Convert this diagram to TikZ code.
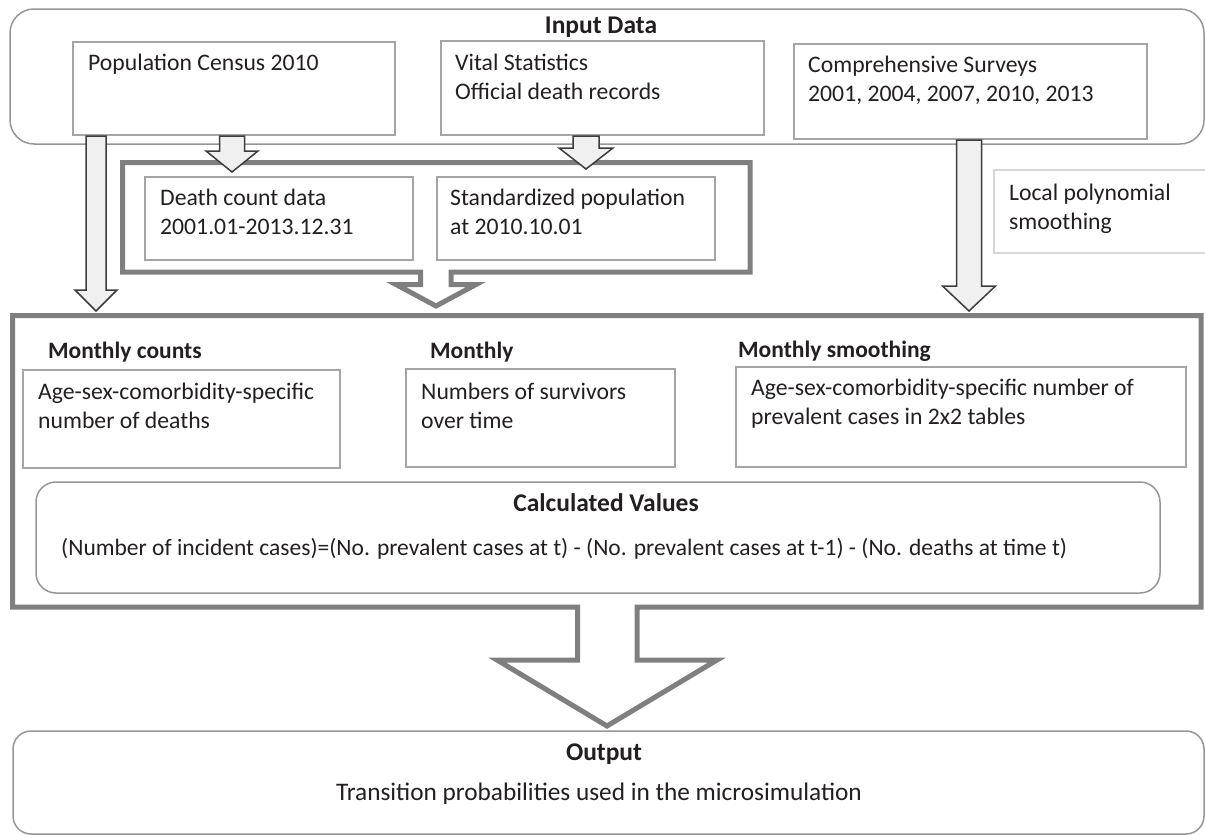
\documentclass[tikz,border=0pt]{standalone}
\usepackage{fontspec}
\setmainfont{Carlito}
\usetikzlibrary{positioning,calc}
\definecolor{txtc}{RGB}{35,31,32}
\definecolor{grpc}{RGB}{150,150,150}
\definecolor{boxc}{RGB}{165,165,165}
\definecolor{lboxc}{RGB}{215,215,215}
\definecolor{fatc}{RGB}{127,127,128}
\definecolor{arrf}{RGB}{240,240,240}
\definecolor{arrd}{RGB}{60,60,60}
% block arrow: x, from, to, half shaft, half head, head length
\newcommand{\blockarrow}[6]{%
  \draw[blk] let \p1=(#2 -| #1,0), \p2=(#3 -| #1,0) in
    ({\x1-#4pt},\y1) -- ({\x1-#4pt},{\y2+#6pt}) -- ({\x1-#5pt},{\y2+#6pt}) -- (\x1,\y2)
    -- ({\x1+#5pt},{\y2+#6pt}) -- ({\x1+#4pt},{\y2+#6pt}) -- ({\x1+#4pt},\y1) -- cycle;}
\tikzset{
  grp/.style={draw=grpc,line width=1.5pt,rounded corners=24pt},
  srcbox/.style={draw=boxc,line width=2pt,anchor=north west,inner sep=0pt},
  lbox/.style={srcbox,draw=lboxc},
  fat/.style={draw=fatc,line width=5pt},
  blk/.style={draw=arrd,fill=arrf,line width=1.5pt},
  txt/.style={anchor=north west,align=left,inner sep=0pt,text=txtc,
    font=\fontsize{23.7}{28.5}\selectfont},
  ftxt/.style={anchor=base west,inner sep=0pt,text=txtc,font=\fontsize{23.5}{28.5}\selectfont},
  hd/.style={anchor=base,inner sep=0pt,text=txtc,font=\fontsize{25.5}{30}\selectfont\bfseries},
  sub/.style={anchor=base west,inner sep=0pt,text=txtc,font=\fontsize{23.5}{28}\selectfont\bfseries},
}
\begin{document}
\begin{tikzpicture}[x=1pt,y=-1pt]
  \useasboundingbox (0,0) rectangle (1205,835);
  % input data
  \draw[grp] (10,9) rectangle (1204,144);
  \node[hd] (inhd) at (601,33) {Input Data};
  \node[srcbox,minimum width=322pt,minimum height=93pt] (pop) at (72,41) {};
  \node[srcbox,minimum width=323pt,minimum height=94pt] (vital) at (440,40) {};
  \node[srcbox,minimum width=353pt,minimum height=95pt] (comp) at (793,43) {};
  \node[txt] (popt) at ($(pop.north west)+(16,13)$) {Population Census 2010};
  \node[txt] (vitalt) at ($(vital.north west)+(15,14)$) {Vital Statistics\\Official death records};
  \node[txt] (compt) at ($(comp.north west)+(15,13)$) {Comprehensive Surveys\\2001, 2004, 2007, 2010, 2013};

  % death counts and population
  \draw[fat] (122.5,162.5) -- (750,162.5) -- (750,272) -- (451,272) -- (451,284.5) -- (476,284.5)
    -- (436,306) -- (396,284.5) -- (420.5,284.5) -- (420.5,272) -- (122.5,272) -- cycle;
  \node[srcbox,minimum width=268pt,minimum height=83pt] (death) at (144,176) {};
  \node[srcbox,minimum width=278pt,minimum height=83pt] (std) at (436,176) {};
  \node[txt] (deatht) at ($(death.north west)+(16,13)$) {Death count data\\2001.01-2013.12.31};
  \node[txt] (stdt) at ($(std.north west)+(14,13)$) {Standardized population\\at 2010.10.01};
  \node[lbox,minimum width=240pt,minimum height=83pt] (loc) at (993,169) {};
  \node[txt] (loct) at ($(loc.north west)+(16,15)$) {Local polynomial\\smoothing};

  % monthly values
  \coordinate (bigtop) at (12.5,311);
  \draw[fat] (577.5,607) -- (12.5,607) -- (12.5,315.5) -- (1201,315.5) -- (1201,607) -- (637,607)
    -- (637,660) -- (717,660) -- (607,726) -- (497,660) -- (577.5,660) -- cycle;
  \node[sub] (mcnt) at (48,358) {Monthly counts};
  \node[sub] (mon) at (430,358) {Monthly};
  \node[sub] (msm) at (738,357) {Monthly smoothing};
  \node[srcbox,minimum width=317pt,minimum height=98pt] (dth) at (22,369) {};
  \node[srcbox,minimum width=269pt,minimum height=98pt] (surv) at (405,368) {};
  \node[srcbox,minimum width=450pt,minimum height=100pt] (prev) at (735,366) {};
  \node[txt] (dtht) at ($(dth.north west)+(16,14)$) {Age-sex-comorbidity-specific\\number of deaths};
  \node[txt] (survt) at ($(surv.north west)+(16,15)$) {Numbers of survivors\\over time};
  \node[txt] (prevt) at ($(prev.north west)+(16,13)$) {Age-sex-comorbidity-specific number of\\prevalent cases in 2x2 tables};
  \draw[grp,rounded corners=20pt] (36,482) rectangle (1160,593);
  \node[hd] (calchd) at (606,511) {Calculated Values};
  \node[ftxt] (calct) at (61,555) {(Number of incident cases)=(No. prevalent cases at t) - (No. prevalent cases at t-1) - (No. deaths at time t)};

  % output
  \draw[grp,rounded corners=18pt] (13,731) rectangle (1204,834);
  \node[hd] (outhd) at (604,760) {Output};
  \node[ftxt,anchor=base,font=\fontsize{25.3}{30}\selectfont] (outt) at (599,800) {Transition probabilities used in the microsimulation};

  % arrows
  \coordinate (ptip) at ($(death.north)+(0,-4)$);
  \coordinate (vtip) at ($(std.north)+(0,-7)$);
  \blockarrow{96}{pop.south}{bigtop}{10}{21}{21}
  \blockarrow{969}{comp.south}{bigtop}{12.5}{26.5}{25}
  \blockarrow{232}{pop.south}{ptip}{12.5}{26}{21}
  \blockarrow{586}{vital.south}{vtip}{13}{27}{21}
\end{tikzpicture}
\end{document}
